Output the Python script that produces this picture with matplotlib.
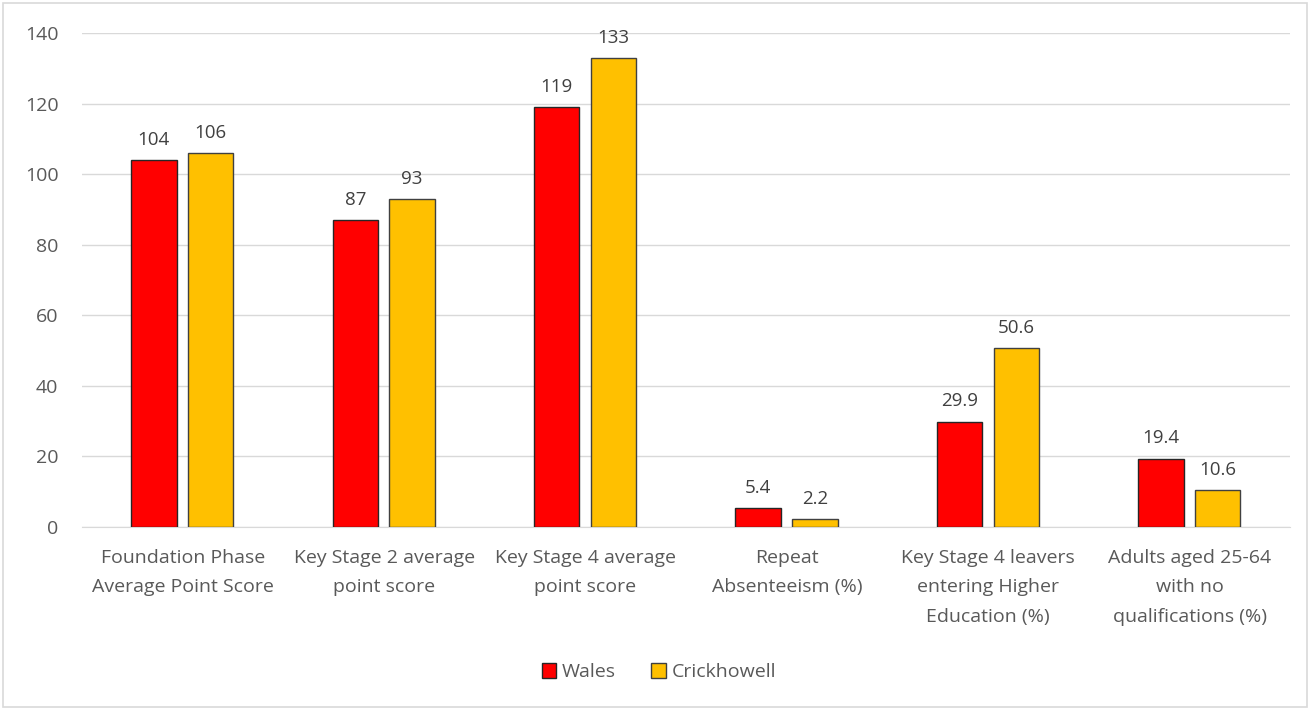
import numpy as np
import matplotlib.pyplot as plt
from matplotlib.patches import Rectangle

categories = ["Foundation Phase\nAverage Point Score", "Key Stage 2 average\npoint score",
              "Key Stage 4 average\npoint score", "Repeat\nAbsenteeism (%)",
              "Key Stage 4 leavers\nentering Higher\nEducation (%)",
              "Adults aged 25-64\nwith no\nqualifications (%)"]
wales = [104, 87, 119, 5.4, 29.9, 19.4]
crickhowell = [106, 93, 133, 2.2, 50.6, 10.6]
wales_lbl = ["104", "87", "119", "5.4", "29.9", "19.4"]
crick_lbl = ["106", "93", "133", "2.2", "50.6", "10.6"]

plt.rcParams['font.family'] = ['Open Sans', 'DejaVu Sans']
txt = '#595959'

fig = plt.figure(figsize=(13.1, 7.1), dpi=100)
ax = fig.add_axes([0.0626, 0.2577, 0.9224, 0.6958])

x = np.arange(len(categories))
w = 0.226
b1 = ax.bar(x - 0.143, wales, w, color='#ff0000', edgecolor='#262626', linewidth=1, label='Wales', zorder=3)
b2 = ax.bar(x + 0.139, crickhowell, w, color='#ffc000', edgecolor='#404040', linewidth=1, label='Crickhowell', zorder=3)
ax.bar_label(b1, labels=wales_lbl, padding=8, fontsize=13.5, color='#404040')
ax.bar_label(b2, labels=crick_lbl, padding=8, fontsize=13.5, color='#404040')

ax.set_xlim(-0.5, len(categories) - 0.5)
ax.set_ylim(0, 140)
ax.set_yticks(range(0, 141, 20))
ax.set_xticks(x)
ax.set_xticklabels(categories, fontsize=14, color=txt, va='top', linespacing=1.8)
ax.tick_params(axis='y', labelsize=14, labelcolor=txt, length=0, pad=17)
ax.tick_params(axis='x', length=0, pad=16)
ax.grid(axis='y', color='#d9d9d9', linewidth=1, zorder=0)
for s in ['top', 'right', 'left']:
    ax.spines[s].set_visible(False)
ax.spines['bottom'].set_color('#d9d9d9')

fig.legend(handles=[b1, b2], loc='center', bbox_to_anchor=(0.503, 0.053), ncol=2, frameon=False,
           fontsize=14, labelcolor=txt, handlelength=0.75, handleheight=0.75, handletextpad=0.3,
           columnspacing=1.8)

fig.add_artist(Rectangle((0.002, 0.004), 0.996, 0.992, transform=fig.transFigure,
                         fill=False, edgecolor='#d9d9d9', linewidth=1.2))

fig.savefig("out.png", dpi=100)
